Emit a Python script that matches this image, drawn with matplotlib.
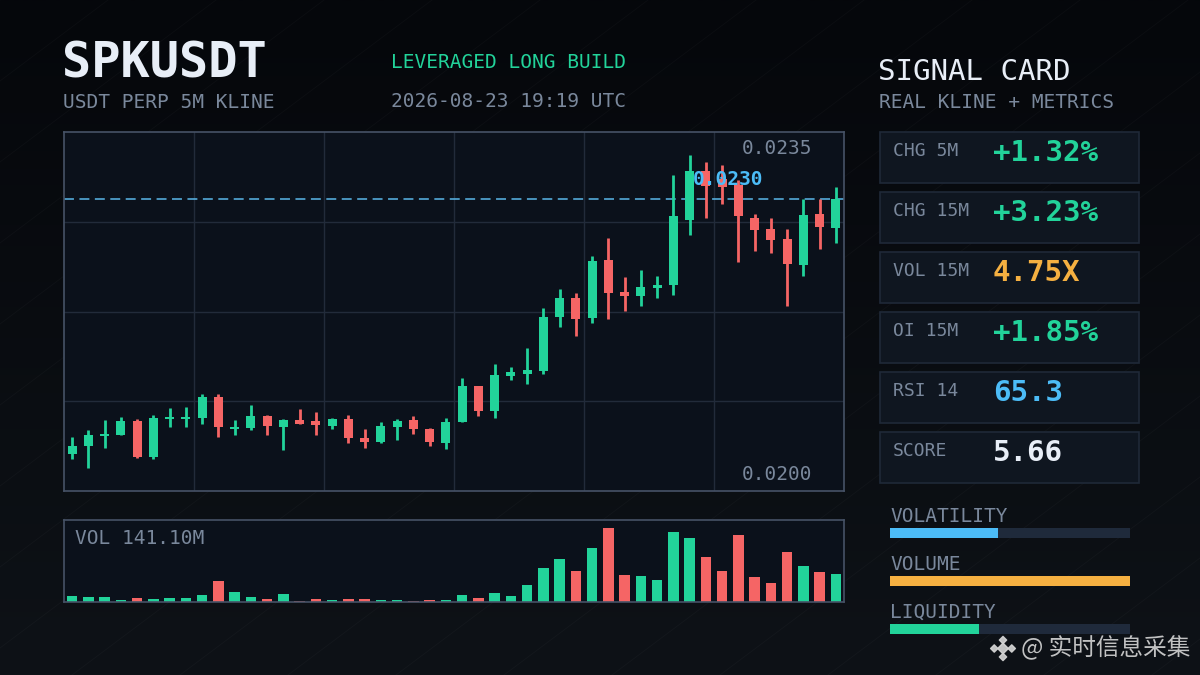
import matplotlib
matplotlib.use("Agg")
import matplotlib.pyplot as plt
import matplotlib.patches as patches
import numpy as np

# 5m klines
opens = [0.02015, 0.02024, 0.02035, 0.02037, 0.02052, 0.02012, 0.02054, 0.02054, 0.02056, 0.02079,
         0.02043, 0.02044, 0.02058, 0.02046, 0.02053, 0.02052, 0.02047, 0.02055, 0.02033, 0.02029,
         0.02046, 0.02053, 0.02043, 0.02028, 0.02051, 0.02091, 0.02063, 0.02103, 0.02105, 0.02108,
         0.02169, 0.02190, 0.02168, 0.02233, 0.02197, 0.02192, 0.02201, 0.02205, 0.02278, 0.02332,
         0.02323, 0.02317, 0.02280, 0.02267, 0.02256, 0.02227, 0.02284, 0.02269]
closes = [0.02024, 0.02037, 0.02038, 0.02052, 0.02012, 0.02056, 0.02057, 0.02057, 0.02079, 0.02046,
          0.02046, 0.02058, 0.02047, 0.02053, 0.02049, 0.02048, 0.02055, 0.02033, 0.02029, 0.02047,
          0.02052, 0.02043, 0.02029, 0.02051, 0.02091, 0.02063, 0.02104, 0.02107, 0.02109, 0.02169,
          0.02190, 0.02167, 0.02232, 0.02196, 0.02192, 0.02202, 0.02205, 0.02282, 0.02332, 0.02316,
          0.02315, 0.02282, 0.02266, 0.02255, 0.02228, 0.02283, 0.02270, 0.02301]
highs = [0.02034, 0.02042, 0.02053, 0.02057, 0.02054, 0.02059, 0.02067, 0.02068, 0.02082, 0.02083,
         0.02053, 0.02070, 0.02059, 0.02054, 0.02066, 0.02062, 0.02056, 0.02059, 0.02043, 0.02051,
         0.02054, 0.02058, 0.02044, 0.02056, 0.02100, 0.02092, 0.02116, 0.02113, 0.02134, 0.02179,
         0.02200, 0.02196, 0.02237, 0.02257, 0.02214, 0.02221, 0.02215, 0.02328, 0.02350, 0.02343,
         0.02339, 0.02322, 0.02284, 0.02280, 0.02268, 0.02301, 0.02301, 0.02315]
lows = [0.02010, 0.02000, 0.02022, 0.02036, 0.02011, 0.02010, 0.02045, 0.02045, 0.02049, 0.02034,
        0.02036, 0.02042, 0.02037, 0.02020, 0.02049, 0.02036, 0.02043, 0.02028, 0.02022, 0.02028,
        0.02031, 0.02038, 0.02024, 0.02021, 0.02051, 0.02058, 0.02056, 0.02098, 0.02094, 0.02105,
        0.02158, 0.02147, 0.02162, 0.02167, 0.02176, 0.02181, 0.02190, 0.02193, 0.02261, 0.02280,
        0.02295, 0.02230, 0.02243, 0.02241, 0.02181, 0.02215, 0.02245, 0.02252]
# volume in millions
volumes = [0.97, 0.81, 0.81, 0.36, 0.66, 0.51, 0.66, 0.66, 1.12, 3.11,
           1.58, 0.81, 0.51, 1.27, 0.20, 0.51, 0.36, 0.51, 0.51, 0.36,
           0.36, 0.20, 0.36, 0.36, 1.12, 0.66, 1.43, 0.97, 2.65, 5.09,
           6.46, 4.63, 8.14, 11.20, 4.02, 3.87, 3.26, 10.59, 9.67, 6.77,
           4.63, 10.13, 3.72, 2.95, 7.53, 5.40, 4.48, 4.17]

symbol = "SPKUSDT"
subtitle = "USDT PERP 5M KLINE"
signal = "LEVERAGED LONG BUILD"
timestamp = "2026-08-23 19:19 UTC"
vol_label = "VOL 141.10M"

card_labels = ["CHG 5M", "CHG 15M", "VOL 15M", "OI 15M", "RSI 14", "SCORE"]
card_values = ["+1.32%", "+3.23%", "4.75X", "+1.85%", "65.3", "5.66"]
meter_labels = ["VOLATILITY", "VOLUME", "LIQUIDITY"]
meter_values = [0.45, 1.0, 0.37]

GREEN = "#22d39a"
RED = "#f56565"
ORANGE = "#f5b041"
BLUE = "#4cbcf7"
WHITE = "#e8eef7"
GREY = "#7a889c"
card_colors = [GREEN, GREEN, ORANGE, GREEN, BLUE, WHITE]
meter_colors = [BLUE, ORANGE, GREEN]

MONO = "DejaVu Sans Mono"
W, H = 1200, 675


def fx(px):
    return px / W


def fy(py):
    return 1 - py / H


fig = plt.figure(figsize=(12, 6.75), dpi=100)
fig.patch.set_facecolor("#0b0e13")

# background: darker at the top, faint diagonal streaks
bg = fig.add_axes([0, 0, 1, 1], zorder=-10)
grad = np.linspace(0, 1, 256).reshape(-1, 1)
bg.imshow(grad, aspect="auto", extent=[0, 1, 0, 1], origin="lower",
          cmap=matplotlib.colors.LinearSegmentedColormap.from_list("bg", ["#0e1217", "#05070b"]))
for s in np.arange(-1.2, 1.2, 0.09):
    bg.plot([s, s + 0.75], [0, 1], color="#ffffff", alpha=0.025, lw=0.8)
bg.set_xlim(0, 1)
bg.set_ylim(0, 1)
bg.axis("off")

# ---- price chart ----
n = len(closes)
x = np.arange(n)
up = [c >= o for o, c in zip(opens, closes)]
colors = [GREEN if u else RED for u in up]

ax = fig.add_axes([fx(64), fy(491), fx(780), 359 / H])
ax.set_facecolor("#0b111b")
for gx in np.linspace(0, 1, 7)[1:-1]:
    ax.axvline(gx * n - 0.5, color="#222b3a", lw=1, zorder=0)
lo, hi = min(lows), max(highs)
pad = (hi - lo) * 0.075
ax.set_ylim(lo - pad, hi + pad)
for gy in np.linspace(lo - pad, hi + pad, 5)[1:-1]:
    ax.axhline(gy, color="#222b3a", lw=1, zorder=0)

ax.vlines(x, lows, highs, colors=colors, lw=2, zorder=2)
bottoms = [min(o, c) for o, c in zip(opens, closes)]
heights = [max(abs(c - o), 0.00002) for o, c in zip(opens, closes)]
ax.bar(x, heights, bottom=bottoms, width=0.56, color=colors, zorder=3)
ax.set_xlim(-0.5, n - 0.5)

last = closes[-1]
ax.axhline(last, color="#5ab8ea", lw=1.1, dashes=(6.5, 3.6), zorder=1)
ax.annotate(f"{last:.4f}", xy=(0.806, last), xycoords=("axes fraction", "data"),
            xytext=(0, 7), textcoords="offset points", va="bottom", ha="left",
            color=BLUE, fontsize=14, family=MONO, fontweight="bold", zorder=5)
ax.text(0.959, 0.953, f"{hi:.4f}", transform=ax.transAxes, ha="right", va="center",
        color=GREY, fontsize=14, family=MONO)
ax.text(0.959, 0.045, f"{lo:.4f}", transform=ax.transAxes, ha="right", va="center",
        color=GREY, fontsize=14, family=MONO)
ax.set_xticks([])
ax.set_yticks([])
for sp in ax.spines.values():
    sp.set_color("#465266")
    sp.set_linewidth(1.2)

# ---- volume ----
axv = fig.add_axes([fx(64), fy(602), fx(780), 82 / H])
axv.set_facecolor("#0b111b")
axv.bar(x, volumes, width=0.65, color=colors)
axv.set_xlim(-0.5, n - 0.5)
axv.set_ylim(0, max(volumes) * 1.11)
axv.text(0.014, 0.707, vol_label, transform=axv.transAxes, ha="left", va="baseline",
         color=GREY, fontsize=14, family=MONO)
axv.set_xticks([])
axv.set_yticks([])
for sp in axv.spines.values():
    sp.set_color("#465266")
    sp.set_linewidth(1.2)

# ---- header ----
fig.text(fx(62), fy(78), symbol, color=WHITE, fontsize=35, family=MONO,
         fontweight="bold", va="baseline")
fig.text(fx(63), fy(108), subtitle, color=GREY, fontsize=14, family=MONO, va="baseline")
fig.text(fx(391), fy(68), signal, color=GREEN, fontsize=14, family=MONO, va="baseline")
fig.text(fx(391), fy(107), timestamp, color=GREY, fontsize=14, family=MONO, va="baseline")

fig.text(fx(878), fy(80), "SIGNAL CARD", color=WHITE, fontsize=21, family=MONO, va="baseline")
fig.text(fx(879), fy(108), "REAL KLINE + METRICS", color=GREY, fontsize=14, family=MONO,
         va="baseline")

# ---- metric cards ----
for i, (lab, val, col) in enumerate(zip(card_labels, card_values, card_colors)):
    top = 132 + 60 * i
    fig.patches.append(patches.Rectangle((fx(880), fy(top + 51)), fx(259), 51 / H,
                                         transform=fig.transFigure, facecolor="#0f1620",
                                         edgecolor="#1f2938", lw=1.2))
    fig.text(fx(893), fy(top + 24), lab, color=GREY, fontsize=13, family=MONO, va="baseline")
    fig.text(fx(993), fy(top + 29), val, color=col, fontsize=21, family=MONO,
             fontweight="bold", va="baseline")

# ---- meters ----
axm = fig.add_axes([fx(890), fy(653), fx(240), 144 / H])
axm.set_xlim(0, 1)
axm.set_ylim(2.5, -0.5)
ym = np.arange(len(meter_labels))
axm.barh(ym, [1] * len(ym), height=0.21, color="#1f2a3b")
axm.barh(ym, meter_values, height=0.21, color=meter_colors)
for i, lab in enumerate(meter_labels):
    axm.text(0, i - 0.23, lab, color=GREY, fontsize=14, family=MONO, va="baseline", ha="left")
axm.axis("off")

# ---- watermark ----
fig.text(fx(1021), fy(648), "@ 实时信息采集", color="#d6d6d6", fontsize=17,
         family=["Noto Sans CJK SC", "DejaVu Sans"], va="center", ha="left", alpha=0.9)
wm = fig.add_axes([fx(989), fy(662), fx(28), 27 / H])
wm.scatter([0, 1, -1, 0, 0], [0, 0, 0, 1, -1], marker="D", s=[30, 14, 14, 14, 14],
           color="#d6d6d6", alpha=0.9)
wm.set_xlim(-1.6, 1.6)
wm.set_ylim(-1.6, 1.6)
wm.axis("off")

fig.savefig("out.png", dpi=100, facecolor=fig.get_facecolor())
